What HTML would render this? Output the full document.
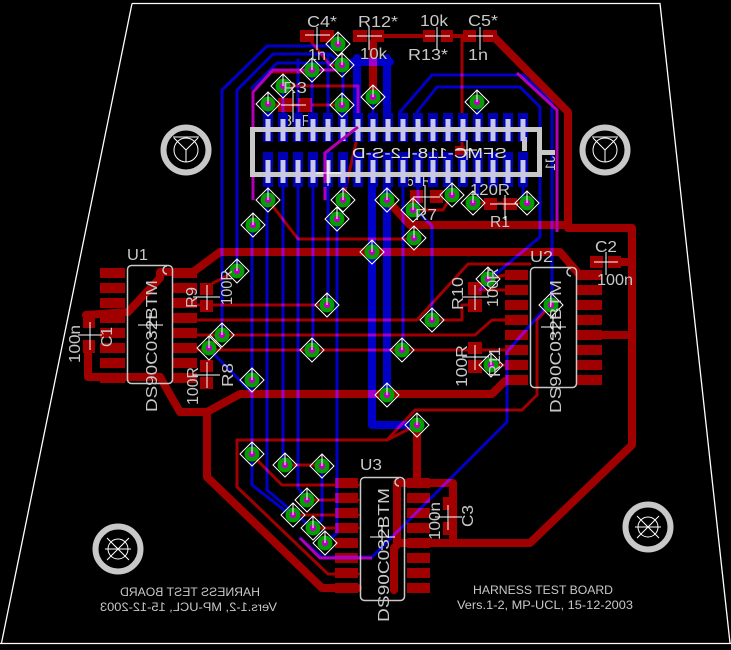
<!DOCTYPE html>
<html><head><meta charset="utf-8">
<style>html,body{margin:0;padding:0;background:#000;}svg{display:block}</style>
</head><body>
<svg width="731" height="650" viewBox="0 0 731 650" xmlns="http://www.w3.org/2000/svg" font-family="'Liberation Sans', sans-serif">
<defs>
 <g id="v">
  <polygon points="0,-12 12,0 0,12 -12,0" fill="none" stroke="#fff" stroke-width="1"/>
  <circle r="7.5" fill="#00a000"/>
  <circle r="3.2" fill="#c000c0"/>
  <line x1="0" y1="0" x2="0" y2="-12" stroke="#fff" stroke-width="1"/>
 </g>
</defs>
<rect width="731" height="650" fill="#000"/>

<!-- board outline -->
<path d="M132,3.5 H660 L730,643 M0,643.5 H731 M132,3.5 L1.5,643" stroke="#fff" stroke-width="1.3" fill="none"/>

<!-- RED (top) layer -->
<g fill="none" stroke="#a00000" stroke-linecap="round" stroke-linejoin="round">
 <g stroke-width="8">
  <path d="M493,36 L568,112 L568,228 L632,228 L632,445 L530,543 L397,543"/>
  <path d="M387,200 L410,225 L568,225"/>
  <path d="M220,252 L560,252 L578,273"/>
  <path d="M220,252 L193,272 L160,272 L160,278 L128,312 L86,315"/>
  <path d="M88,350 V377 H160 L180,412 H207 L240,394 H492 L505,381"/>
  <path d="M207,412 V477 L322,588 H358"/>
  <path d="M417,425 V483"/>
  <path d="M397,483 H453 V543"/>
  <path d="M397,483 V545 L394,548 V590"/>
  <path d="M373,43 V97"/>
  <path d="M602,335 H632"/>
  <path d="M612,262 H632"/>
 </g>
 <g stroke-width="4">
  <path d="M383,36 H423 M453,36 H463"/>
 </g>
 <g stroke-width="3">
  <path d="M462,36 V150"/>
  <path d="M270,72 H312"/>
  <path d="M310,40 L330,65 H342"/>
  <path d="M268,105 H342"/>
  <path d="M283,86 H358 V122"/>
  <path d="M343,200 L360,125"/>
  <path d="M268,200 L298,239 H414"/>
  <path d="M413,210 H443 L452,195"/>
  <path d="M473,203 H527"/>
  <path d="M213,283 L237,271"/>
  <path d="M197,305 H327"/>
  <path d="M197,320 H417 L468,264 H530"/>
  <path d="M197,335 H475 L492,320 H505"/>
  <path d="M197,350 H505"/>
  <path d="M432,320 H462 V305 H468"/>
  <path d="M482,290 H505"/>
  <path d="M488,279 L505,275"/>
  <path d="M491,365 H505"/>
  <path d="M237,487 V440 H387 L415,410 H522 L537,395 V320 L551,305"/>
  <path d="M387,440 L415,426"/>
  <path d="M252,455 L282,485 H358"/>
  <path d="M285,465 H322"/>
  <path d="M307,500 H358"/>
  <path d="M293,515 H358"/>
  <path d="M313,528 H358"/>
  <path d="M237,487 L328,574 H358"/>
  <path d="M209,348 L222,335"/>
 </g>
</g>
<!-- red pads -->
<g fill="#a00000">
 <rect x="300" y="30" width="14" height="12"/><rect x="320" y="30" width="14" height="12"/>
 <rect x="353" y="30" width="14" height="12"/><rect x="371" y="30" width="13" height="12"/>
 <rect x="423" y="30" width="12" height="12"/><rect x="441" y="30" width="12" height="12"/>
 <rect x="463" y="30" width="13" height="12"/><rect x="483" y="30" width="14" height="12"/>
 <rect x="278" y="98" width="14" height="14"/><rect x="298" y="98" width="14" height="14"/>
 <rect x="410" y="190" width="13" height="13"/><rect x="430" y="190" width="13" height="13"/>
 <rect x="484" y="198" width="13" height="12"/><rect x="503" y="198" width="14" height="12"/>
 <rect x="200" y="283" width="13" height="12"/><rect x="200" y="300" width="13" height="12"/>
 <rect x="200" y="360" width="13" height="12"/><rect x="200" y="377" width="13" height="12"/>
 <rect x="468" y="282" width="14" height="13"/><rect x="468" y="299" width="14" height="13"/>
 <rect x="468" y="342" width="14" height="12"/><rect x="468" y="360" width="14" height="13"/>
 <rect x="83" y="315" width="12" height="13"/><rect x="83" y="340" width="12" height="13"/>
 <rect x="590" y="256" width="13" height="12"/><rect x="608" y="256" width="13" height="12"/>
 <rect x="443" y="497" width="10" height="13"/><rect x="443" y="522" width="10" height="13"/>
 <!-- U1 -->
 <rect x="100" y="268" width="25" height="10"/><rect x="100" y="283" width="25" height="10"/><rect x="100" y="298" width="25" height="10"/><rect x="100" y="313" width="25" height="10"/>
 <rect x="100" y="328" width="25" height="10"/><rect x="100" y="343" width="25" height="10"/><rect x="100" y="358" width="25" height="10"/><rect x="100" y="373" width="25" height="10"/>
 <rect x="173" y="268" width="24" height="10"/><rect x="173" y="283" width="24" height="10"/><rect x="173" y="298" width="24" height="10"/><rect x="173" y="313" width="24" height="10"/>
 <rect x="173" y="328" width="24" height="10"/><rect x="173" y="343" width="24" height="10"/><rect x="173" y="358" width="24" height="10"/><rect x="173" y="373" width="24" height="10"/>
 <!-- U2 -->
 <rect x="505" y="270" width="23" height="10"/><rect x="505" y="285" width="23" height="10"/><rect x="505" y="300" width="23" height="10"/><rect x="505" y="315" width="23" height="10"/>
 <rect x="505" y="330" width="23" height="10"/><rect x="505" y="345" width="23" height="10"/><rect x="505" y="360" width="23" height="10"/><rect x="505" y="375" width="23" height="10"/>
 <rect x="577" y="270" width="25" height="10"/><rect x="577" y="285" width="25" height="10"/><rect x="577" y="300" width="25" height="10"/><rect x="577" y="315" width="25" height="10"/>
 <rect x="577" y="330" width="25" height="10"/><rect x="577" y="345" width="25" height="10"/><rect x="577" y="360" width="25" height="10"/><rect x="577" y="375" width="25" height="10"/>
 <!-- U3 -->
 <rect x="335" y="478" width="23" height="10"/><rect x="335" y="493" width="23" height="10"/><rect x="335" y="508" width="23" height="10"/><rect x="335" y="523" width="23" height="10"/>
 <rect x="335" y="538" width="23" height="10"/><rect x="335" y="553" width="23" height="10"/><rect x="335" y="568" width="23" height="10"/><rect x="335" y="583" width="23" height="10"/>
 <rect x="407" y="478" width="23" height="10"/><rect x="407" y="493" width="23" height="10"/><rect x="407" y="508" width="23" height="10"/><rect x="407" y="523" width="23" height="10"/>
 <rect x="407" y="538" width="23" height="10"/><rect x="407" y="553" width="23" height="10"/><rect x="407" y="568" width="23" height="10"/><rect x="407" y="583" width="23" height="10"/>
</g>

<!-- BLUE (bottom) layer -->
<g fill="none" stroke="#0000c8" stroke-linecap="round" stroke-linejoin="round" style="mix-blend-mode:lighten">
 <g stroke-width="3">
  <path d="M222,335 V90 L267,46 H332"/>
  <path d="M237,271 V90 L273,54 H330 L342,65"/>
  <path d="M252,88 L277,63 H333"/>
  <path d="M252,225 V485 L293,517"/>
  <path d="M267,200 V490 L312,528"/>
  <path d="M283,183 V465"/>
  <path d="M298,183 V488 L307,500"/>
  <path d="M313,183 V350"/>
  <path d="M328,183 V305"/>
  <path d="M337,219 V533 L325,543"/>
  <path d="M322,466 V520 L313,528"/>
  <path d="M403,183 V350"/>
  <path d="M417,211 L432,226 V320"/>
  <path d="M400,112 L432,75 H523 L552,103 V300 L507,352 V422 L372,557 H322 L300,538"/>
  <path d="M417,112 L437,87 H520 L540,107 V237 L497,273 L480,290"/>
  <path d="M213,353 L252,393"/>
  <path d="M283,86 V114 M298,60 V114 M312,70 V114 M328,55 V114 M343,65 V114 M268,104 V114 M342,105 V114 M478,102 V114 M373,97 V114"/>
  <path d="M268,183 V200 M343,183 V200 M388,183 V200 M418,183 V205 M448,183 V190 M478,183 V200 M523,183 V203"/>
 </g>
 <g stroke-width="8">
  <path d="M357,58 V114"/>
  <path d="M353,62 H390"/>
  <path d="M387,58 V114"/>
  <path d="M372,183 V425 H417"/>
  <path d="M387,183 V395"/>
 </g>
</g>

<!-- magenta -->
<g fill="none" stroke="#b400b4" stroke-width="3" stroke-linejoin="round">
 <path d="M340,70 H273 L253,92 V200"/>
 <path d="M358,127 L325,153 V200"/>
 <path d="M517,73 L557,110 V232"/>
 <path d="M300,538 L320,558 H372"/>
</g>

<!-- partially hidden values -->
<g fill="#c8c8c8" font-size="16">
 <text x="283" y="126" textLength="30" lengthAdjust="spacingAndGlyphs">82R</text>
 <text x="406" y="186" textLength="26" lengthAdjust="spacingAndGlyphs">68R</text>
</g>

<!-- connector J1 -->
<g>
 <g fill="#0000b4">
  <rect x="263" y="113" width="10" height="29"/><rect x="278" y="113" width="10" height="29"/><rect x="293" y="113" width="10" height="29"/><rect x="308" y="113" width="10" height="29"/><rect x="323" y="113" width="10" height="29"/><rect x="338" y="113" width="10" height="29"/>
  <rect x="353" y="113" width="10" height="29"/><rect x="368" y="113" width="10" height="29"/><rect x="383" y="113" width="10" height="29"/><rect x="398" y="113" width="10" height="29"/><rect x="413" y="113" width="10" height="29"/><rect x="428" y="113" width="10" height="29"/>
  <rect x="443" y="113" width="10" height="29"/><rect x="458" y="113" width="10" height="29"/><rect x="473" y="113" width="10" height="29"/><rect x="488" y="113" width="10" height="29"/><rect x="503" y="113" width="10" height="29"/><rect x="518" y="113" width="10" height="29"/>
  <rect x="263" y="152" width="10" height="35"/><rect x="278" y="152" width="10" height="35"/><rect x="293" y="152" width="10" height="35"/><rect x="308" y="152" width="10" height="35"/><rect x="323" y="152" width="10" height="35"/><rect x="338" y="152" width="10" height="35"/>
  <rect x="353" y="152" width="10" height="35"/><rect x="368" y="152" width="10" height="35"/><rect x="383" y="152" width="10" height="35"/><rect x="398" y="152" width="10" height="35"/><rect x="413" y="152" width="10" height="35"/><rect x="428" y="152" width="10" height="35"/>
  <rect x="443" y="152" width="10" height="35"/><rect x="458" y="152" width="10" height="35"/><rect x="473" y="152" width="10" height="35"/><rect x="488" y="152" width="10" height="35"/><rect x="503" y="152" width="10" height="35"/><rect x="518" y="152" width="10" height="35"/>
 </g>
 <rect x="252.5" y="129.5" width="287" height="45" fill="none" stroke="#c8c8c8" stroke-width="5"/>
 <g fill="#c8c8e8">
  <rect x="265.5" y="119" width="5" height="22"/><rect x="280.5" y="119" width="5" height="22"/><rect x="295.5" y="119" width="5" height="22"/><rect x="310.5" y="119" width="5" height="22"/><rect x="325.5" y="119" width="5" height="22"/><rect x="340.5" y="119" width="5" height="22"/>
  <rect x="355.5" y="119" width="5" height="22"/><rect x="370.5" y="119" width="5" height="22"/><rect x="385.5" y="119" width="5" height="22"/><rect x="400.5" y="119" width="5" height="22"/><rect x="415.5" y="119" width="5" height="22"/><rect x="430.5" y="119" width="5" height="22"/>
  <rect x="445.5" y="119" width="5" height="22"/><rect x="460.5" y="119" width="5" height="22"/><rect x="475.5" y="119" width="5" height="22"/><rect x="490.5" y="119" width="5" height="22"/><rect x="505.5" y="119" width="5" height="22"/><rect x="520.5" y="119" width="5" height="22"/>
  <rect x="265.5" y="160" width="5" height="23"/><rect x="280.5" y="160" width="5" height="23"/><rect x="295.5" y="160" width="5" height="23"/><rect x="310.5" y="160" width="5" height="23"/><rect x="325.5" y="160" width="5" height="23"/><rect x="340.5" y="160" width="5" height="23"/>
  <rect x="355.5" y="160" width="5" height="23"/><rect x="370.5" y="160" width="5" height="23"/><rect x="385.5" y="160" width="5" height="23"/><rect x="400.5" y="160" width="5" height="23"/><rect x="415.5" y="160" width="5" height="23"/><rect x="430.5" y="160" width="5" height="23"/>
  <rect x="445.5" y="160" width="5" height="23"/><rect x="460.5" y="160" width="5" height="23"/><rect x="475.5" y="160" width="5" height="23"/><rect x="490.5" y="160" width="5" height="23"/><rect x="505.5" y="160" width="5" height="23"/><rect x="520.5" y="160" width="5" height="23"/>
 </g>
 <rect x="540" y="150" width="15" height="5" fill="#c8c8c8"/>
 <rect x="522" y="137" width="5" height="14" fill="#c8c8c8"/>
 <rect x="455" y="146" width="10" height="9" fill="#a00000"/>
 <path d="M358,127 L325,153 V183" fill="none" stroke="#b400b4" stroke-width="3"/>
 <text transform="translate(507,158) scale(-1,1)" font-size="15" fill="#e0e0e0" textLength="155" lengthAdjust="spacingAndGlyphs">SFMC-118-L2-S-D</text>
 <text transform="translate(555,156) rotate(90) scale(1,-1)" font-size="14" fill="#c8c8c8">J1</text>
</g>

<!-- mounting holes -->
<g fill="none" stroke="#c8c8c8" stroke-width="6">
 <circle cx="186" cy="150" r="22.5"/><circle cx="605" cy="150" r="22.5"/>
 <circle cx="118" cy="549" r="22.5"/><circle cx="648" cy="527" r="22.5"/>
</g>
<g fill="none" stroke="#fff" stroke-width="1">
 <circle cx="186" cy="150" r="12"/><path d="M173,137 H199 M186,150 L174,138 M186,150 L198,138 M186,150 V162"/>
 <circle cx="605" cy="150" r="12"/><path d="M592,137 H618 M605,150 L593,138 M605,150 L617,138 M605,150 V162"/>
 <circle cx="118" cy="549" r="10"/><path d="M107,538 L129,560 M129,538 L107,560 M105,549 H131"/>
 <circle cx="648" cy="527" r="10"/><path d="M637,516 L659,538 M659,516 L637,538 M635,527 H661"/>
</g>

<!-- silkscreen outlines -->
<g fill="none" stroke="#c8c8c8" stroke-width="1.5">
 <rect x="127.5" y="265.5" width="45" height="118" rx="4"/>
 <path d="M167,266 A4,4 0 0 0 167,274"/>
 <rect x="530.5" y="267.5" width="46" height="120" rx="4"/>
 <path d="M571,268 A4,4 0 0 0 571,276"/>
 <rect x="360.5" y="477.5" width="44" height="123" rx="4"/>
 <path d="M399,478 A4,4 0 0 0 399,486"/>
</g>

<!-- vias -->
<g>
 <use href="#v" x="338" y="44"/><use href="#v" x="342" y="65"/><use href="#v" x="312" y="70"/><use href="#v" x="283" y="86"/>
 <use href="#v" x="268" y="104"/><use href="#v" x="342" y="105"/><use href="#v" x="373" y="97"/><use href="#v" x="477" y="102"/>
 <use href="#v" x="268" y="200"/><use href="#v" x="253" y="225"/><use href="#v" x="343" y="200"/><use href="#v" x="337" y="219"/>
 <use href="#v" x="387" y="200"/><use href="#v" x="413" y="210"/><use href="#v" x="414" y="238"/><use href="#v" x="452" y="195"/>
 <use href="#v" x="473" y="203"/><use href="#v" x="527" y="203"/>
 <use href="#v" x="372" y="252"/><use href="#v" x="237" y="271"/><use href="#v" x="488" y="279"/><use href="#v" x="327" y="305"/>
 <use href="#v" x="551" y="305"/><use href="#v" x="432" y="320"/><use href="#v" x="222" y="335"/><use href="#v" x="209" y="348"/>
 <use href="#v" x="312" y="350"/><use href="#v" x="402" y="350"/><use href="#v" x="491" y="365"/><use href="#v" x="252" y="380"/>
 <use href="#v" x="387" y="395"/><use href="#v" x="417" y="425"/>
 <use href="#v" x="252" y="454"/><use href="#v" x="285" y="465"/><use href="#v" x="322" y="466"/><use href="#v" x="307" y="500"/>
 <use href="#v" x="293" y="515"/><use href="#v" x="313" y="528"/><use href="#v" x="325" y="543"/>
</g>

<!-- labels -->
<g fill="#c8c8c8" font-size="16">
 <text x="307" y="27" textLength="30" lengthAdjust="spacingAndGlyphs">C4*</text>
 <text x="358" y="27" textLength="40" lengthAdjust="spacingAndGlyphs">R12*</text>
 <text x="420" y="26" textLength="28" lengthAdjust="spacingAndGlyphs">10k</text>
 <text x="468" y="26" textLength="30" lengthAdjust="spacingAndGlyphs">C5*</text>
 <text x="308" y="60" textLength="18" lengthAdjust="spacingAndGlyphs">1n</text>
 <text x="360" y="59" textLength="27" lengthAdjust="spacingAndGlyphs">10k</text>
 <text x="408" y="60" textLength="40" lengthAdjust="spacingAndGlyphs">R13*</text>
 <text x="468" y="60" textLength="20" lengthAdjust="spacingAndGlyphs">1n</text>
 <text x="283" y="93" textLength="24" lengthAdjust="spacingAndGlyphs">R3</text>
 <text x="415" y="220" textLength="22" lengthAdjust="spacingAndGlyphs">R7</text>
 <text x="470" y="195" textLength="40" lengthAdjust="spacingAndGlyphs">120R</text>
 <text x="490" y="227" textLength="20" lengthAdjust="spacingAndGlyphs">R1</text>
 <text x="127" y="260" textLength="21" lengthAdjust="spacingAndGlyphs">U1</text>
 <text x="530" y="262" textLength="23" lengthAdjust="spacingAndGlyphs">U2</text>
 <text x="595" y="252" textLength="22" lengthAdjust="spacingAndGlyphs">C2</text>
 <text x="597" y="285" textLength="36" lengthAdjust="spacingAndGlyphs">100n</text>
 <text x="360" y="470" textLength="22" lengthAdjust="spacingAndGlyphs">U3</text>

 <text transform="translate(157,412) rotate(-90)" textLength="132" lengthAdjust="spacingAndGlyphs">DS90C032BTM</text>
 <text transform="translate(561,413) rotate(-90)" textLength="133" lengthAdjust="spacingAndGlyphs">DS90C032BTM</text>
 <text transform="translate(389,622) rotate(-90)" textLength="134" lengthAdjust="spacingAndGlyphs">DS90C032BTM</text>
 <text transform="translate(112,347) rotate(-90)" textLength="20" lengthAdjust="spacingAndGlyphs">C1</text>
 <text transform="translate(80,363) rotate(-90)" textLength="38" lengthAdjust="spacingAndGlyphs">100n</text>
 <text transform="translate(197,308) rotate(-90)" textLength="21" lengthAdjust="spacingAndGlyphs">R9</text>
 <text transform="translate(232,305) rotate(-90)" textLength="35" lengthAdjust="spacingAndGlyphs">100R</text>
 <text transform="translate(233,387) rotate(-90)" textLength="24" lengthAdjust="spacingAndGlyphs">R8</text>
 <text transform="translate(198,405) rotate(-90)" textLength="38" lengthAdjust="spacingAndGlyphs">100R</text>
 <text transform="translate(463,310) rotate(-90)" textLength="33" lengthAdjust="spacingAndGlyphs">R10</text>
 <text transform="translate(498,307) rotate(-90)" textLength="39" lengthAdjust="spacingAndGlyphs">100R</text>
 <text transform="translate(467,387) rotate(-90)" textLength="42" lengthAdjust="spacingAndGlyphs">100R</text>
 <text transform="translate(500,377) rotate(-90)" textLength="30" lengthAdjust="spacingAndGlyphs">R11</text>
 <text transform="translate(473,527) rotate(-90)" textLength="22" lengthAdjust="spacingAndGlyphs">C3</text>
 <text transform="translate(440,540) rotate(-90)" textLength="38" lengthAdjust="spacingAndGlyphs">100n</text>
</g>

<!-- board text -->
<g fill="#c8c8c8" font-size="12">
 <text x="473" y="594" textLength="140" lengthAdjust="spacingAndGlyphs">HARNESS TEST BOARD</text>
 <text x="457" y="609" textLength="176" lengthAdjust="spacingAndGlyphs">Vers.1-2, MP-UCL, 15-12-2003</text>
 <text transform="translate(260,596) scale(-1,1)" textLength="140" lengthAdjust="spacingAndGlyphs">HARNESS TEST BOARD</text>
 <text transform="translate(277,611) scale(-1,1)" textLength="177" lengthAdjust="spacingAndGlyphs">Vers.1-2, MP-UCL, 15-12-2003</text>
</g>

<!-- origin crosses -->
<g stroke="#fff" stroke-width="1" fill="none">
 <path d="M305,35 H330 M317,27 V50"/>
 <path d="M357,36 H382 M369,27 V50"/>
 <path d="M425,36 H450 M437,27 V50"/>
 <path d="M468,36 H493 M480,27 V50"/>
 <path d="M281,105 H306 M293,92 V122"/>
 <path d="M413,197 H440 M425,185 V210"/>
 <path d="M490,204 H518 M505,195 V220"/>
 <path d="M193,297 H220 M207,285 V310"/>
 <path d="M193,375 H220 M207,362 V388"/>
 <path d="M462,297 H489 M475,285 V310"/>
 <path d="M462,357 H489 M475,345 V370"/>
 <path d="M78,335 H102 M90,322 V350"/>
 <path d="M435,517 H462 M448,505 V530"/>
 <path d="M594,262 H618 M606,252 V275"/>
 <path d="M138,325 H163 M150,313 V338"/>
 <path d="M541,327 H566 M553,315 V340"/>
 <path d="M370,537 H395 M382,525 V550"/>
 <path d="M316,173 H341 M328,161 V186"/>
 <path d="M457,150 H477 M467,140 V160"/>
</g>
</svg>
</body></html>
